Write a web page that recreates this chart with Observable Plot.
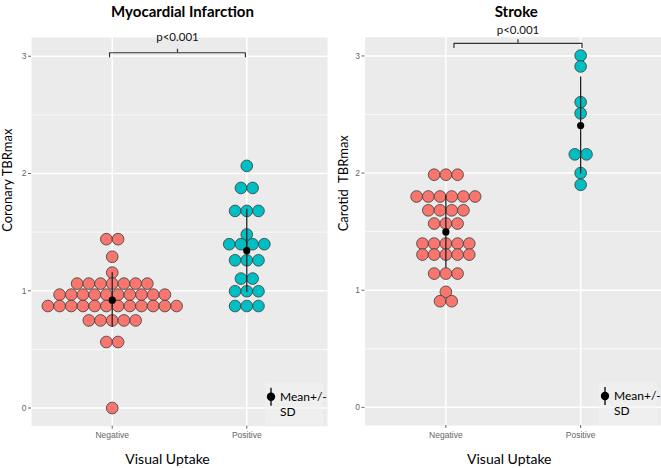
<!DOCTYPE html>
<html><head><meta charset="utf-8">
<script src="https://cdn.jsdelivr.net/npm/d3@7"></script>
<script src="https://cdn.jsdelivr.net/npm/@observablehq/plot@0.6"></script>
<style>
body{margin:0;background:#fff;}
#wrap{position:relative;width:661px;height:468px;overflow:hidden;background:#fff;}
#wrap svg{position:absolute;top:0;}
.pre{white-space:pre;}
</style></head><body><div id="wrap"></div>
<script>
// ---- data ----
const groups = ["Negative", "Positive"];
const yTicks = [0, 1, 2, 3];
const yMinor = [0.5, 1.5, 2.5];
// Myocardial infarction: binned TBRmax values and number of dots per bin
const miNegValues = [1.44, 1.29, 1.155, 1.061, 0.967, 0.87, 0.747, 0.563, 0.0];
const miNegCounts = [2, 1, 1, 7, 10, 12, 5, 2, 1];
const miPosValues = [2.065, 1.877, 1.681, 1.48, 1.397, 1.26, 1.104, 0.996, 0.87];
const miPosCounts = [1, 2, 3, 1, 4, 3, 2, 3, 3];
// Stroke
const stNegValues = [1.986, 1.80, 1.682, 1.569, 1.398, 1.304, 1.142, 0.986, 0.906];
const stNegCounts = [3, 6, 4, 3, 5, 5, 3, 1, 2];
const stPosValues = [3.003, 2.91, 2.605, 2.51, 2.16, 2.0, 1.90];
const stPosCounts = [1, 1, 1, 1, 2, 1, 1];
// significance brackets (data units)
const miBracket = {x1: 0.98, x2: 1.99, y: 3.03, labelY: 3.165, label: "p<0.001"};
const stBracket = {x1: 1.06, x2: 2.01, y: 3.108, labelY: 3.22, label: "p<0.001"};
const legendLabel = ["Mean+/-", "SD"];

// ---- drawing ----
const negColor = "#F8766D", posColor = "#00BFC4";
const xDomain = [0.4, 2.6], yDomain = [-0.155, 3.16];
const R = 5.85;
const H = 468;
const FONT = "Lato, 'Open Sans', sans-serif";

function expand(values, counts, g) {
  const out = [];
  values.forEach((v, i) => { for (let k = 0; k < counts[i]; k++) out.push({group: g, value: v, k, n: counts[i]}); });
  return out;
}

function panel(cfg) {
  const W = cfg.width;
  const pxPerX = (W - cfg.ml - cfg.mr) / (xDomain[1] - xDomain[0]);
  const step = 11.7 / pxPerX;
  const place = d => ({...d, x: d.group + (d.k - (d.n - 1) / 2) * step});
  const neg = expand(cfg.neg[0], cfg.neg[1], 1).map(place);
  const pos = expand(cfg.pos[0], cfg.pos[1], 2).map(place);
  const summ = [neg, pos].map((arr, i) => {
    const vs = arr.map(d => d.value);
    const m = d3.mean(vs), s = d3.deviation(vs);
    return {group: i + 1, mean: m, lo: m - s, hi: m + s};
  });
  const b = cfg.bracket;
  const tick = 0.035;
  const bracketPath = [
    {x: b.x1, y: b.y - tick}, {x: b.x1, y: b.y}, {x: b.x2, y: b.y}, {x: b.x2, y: b.y - tick}
  ];
  const mid = (b.x1 + b.x2) / 2;
  const svg = Plot.plot({
    width: W, height: H,
    marginLeft: cfg.ml, marginRight: cfg.mr, marginTop: cfg.mt, marginBottom: cfg.mb,
    x: {domain: xDomain, axis: null},
    y: {domain: yDomain, axis: null},
    style: {fontFamily: FONT, background: "transparent", color: "black", overflow: "visible"},
    marks: [
      Plot.frame({fill: "#EBEBEB", stroke: null}),
      Plot.ruleY(yMinor, {stroke: "white", strokeWidth: 0.7}),
      Plot.ruleY(yTicks, {stroke: "white", strokeWidth: 1.5}),
      Plot.ruleX([1, 2], {stroke: "white", strokeWidth: 1.5}),
      Plot.axisY({ticks: yTicks, tickFormat: d => String(d), tickSize: 3, tickPadding: 2, fontSize: 8.5, fontFamily: "'Liberation Sans', Arial, sans-serif", color: "#666", label: null}),
      Plot.axisX({ticks: [1, 2], tickFormat: d => groups[d - 1], tickSize: 3, tickPadding: 3, fontSize: 8.5, fontFamily: "'Liberation Sans', Arial, sans-serif", color: "#666", label: null}),
      Plot.dot(neg, {x: "x", y: "value", r: R, fill: negColor, stroke: "#3a3a3a", strokeWidth: 0.8}),
      Plot.dot(pos, {x: "x", y: "value", r: R, fill: posColor, stroke: "#3a3a3a", strokeWidth: 0.8}),
      Plot.ruleX(summ, {x: "group", y1: "lo", y2: "hi", stroke: "#222", strokeWidth: 1.3}),
      Plot.dot(summ, {x: "group", y: "mean", r: 3.6, fill: "black"}),
      Plot.line(bracketPath, {x: "x", y: "y", stroke: "#333", strokeWidth: 1.2}),
      Plot.ruleX([mid], {y1: b.y, y2: b.y + 0.03, stroke: "#333", strokeWidth: 1.2}),
      Plot.text([b.label], {x: mid, y: b.labelY, fontSize: 11.5, fill: "#111"}),
      Plot.text([cfg.title], {frameAnchor: "top", dx: 3, dy: cfg.titleDy, fontSize: 15, fontWeight: "bold", fill: "black"}),
      Plot.text([cfg.ylab], {frameAnchor: "left", rotate: -90, dx: cfg.ylabDx, fontSize: 13, fill: "black", className: "pre"}),
      Plot.text(["Visual Uptake"], {frameAnchor: "bottom", dx: cfg.xlabDx, dy: 38, fontSize: 14, fill: "black"})
    ]
  });
  // legend (Mean +/- SD) inside the panel, bottom-right
  const fr = W - cfg.mr, fb = H - cfg.mb;
  const g = d3.select(svg).append("g").attr("text-anchor", "start");
  g.append("rect").attr("x", fr - 62).attr("y", fb - 43).attr("width", 58).attr("height", 43)
    .attr("fill", "#F2F2F2").attr("opacity", 0.6);
  const cx = fr - 56, cy = fb - 29;
  g.append("line").attr("x1", cx).attr("x2", cx).attr("y1", cy - 9).attr("y2", cy + 9).attr("stroke", "black").attr("stroke-width", 1.3);
  g.append("circle").attr("cx", cx).attr("cy", cy).attr("r", 4.2).attr("fill", "black");
  g.append("text").attr("x", cx + 9).attr("y", cy + 4).attr("font-size", 12).attr("font-family", FONT).text(legendLabel[0]);
  g.append("text").attr("x", cx + 9).attr("y", cy + 19).attr("font-size", 12).attr("font-family", FONT).text(legendLabel[1]);
  svg.style.left = cfg.left + "px";
  return svg;
}

const wrap = document.getElementById("wrap");
wrap.append(panel({
  left: 0, width: 330, ml: 31, mr: 3, mt: 37, mb: 42.3,
  neg: [miNegValues, miNegCounts], pos: [miPosValues, miPosCounts],
  bracket: miBracket, title: "Myocardial Infarction", titleDy: -31,
  ylab: "Coronary TBRmax", ylabDx: -24, xlabDx: -12
}));
wrap.append(panel({
  left: 330, width: 331, ml: 34.5, mr: 0, mt: 36.7, mb: 43,
  neg: [stNegValues, stNegCounts], pos: [stPosValues, stPosCounts],
  bracket: stBracket, title: "Stroke", titleDy: -31,
  ylab: "Carotid  TBRmax", ylabDx: -21.5, xlabDx: -4
}));
</script>
</body></html>
